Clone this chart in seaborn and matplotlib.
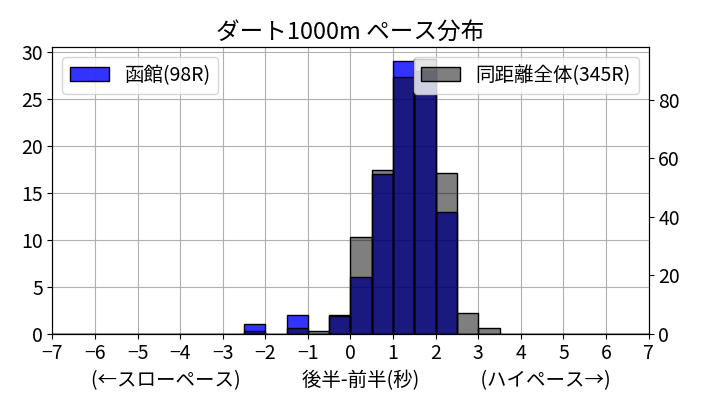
import numpy as np
import pandas as pd
import seaborn as sns
import matplotlib as mpl
import matplotlib.pyplot as plt

mpl.rcParams["font.family"] = "Noto Sans CJK JP"
mpl.rcParams["font.size"] = 14

# bin edges (sec), width 0.5
bin_edges = [x / 2 for x in range(-14, 15)]
bin_centers = [-2.25, -1.25, -0.75, -0.25, 0.25, 0.75, 1.25, 1.75, 2.25, 2.75, 3.25]
hakodate_counts = [1, 2, 0, 2, 6, 17, 29, 28, 13, 0, 0]
all_counts = [1, 2, 1, 6, 33, 56, 88, 94, 55, 7, 2]

df = pd.DataFrame({"diff": bin_centers, "hakodate": hakodate_counts, "all": all_counts})

fig, ax = plt.subplots(figsize=(7.01, 4.12), dpi=100)
ax2 = ax.twinx()

sns.histplot(x=df["diff"], weights=df["hakodate"], bins=bin_edges, ax=ax,
             color="blue", alpha=0.8, edgecolor="black", linewidth=1,
             label="函館(98R)")
sns.histplot(x=df["diff"], weights=df["all"], bins=bin_edges, ax=ax2,
             color="black", alpha=0.5, edgecolor="black", linewidth=1,
             label="同距離全体(345R)")

ax.set_xlim(-7, 7)
ax.set_xticks(range(-7, 8))
ax.set_ylim(0, 30.5)
ax2.set_ylim(0, 98)
ax.set_ylabel("")
ax2.set_ylabel("")
ax.set_xlabel("(←スローペース)              後半-前半(秒)              (ハイペース→)")
ax.xaxis.label.set_size(14)
ax.grid(True, color="#b0b0b0")
ax.set_axisbelow(True)
ax.set_title("ダート1000m ペース分布", fontsize=17)

ax.legend(loc="upper left", fontsize=14)
ax2.legend(loc="upper right", fontsize=14)

plt.tight_layout()
plt.savefig("out.png", dpi=100)
